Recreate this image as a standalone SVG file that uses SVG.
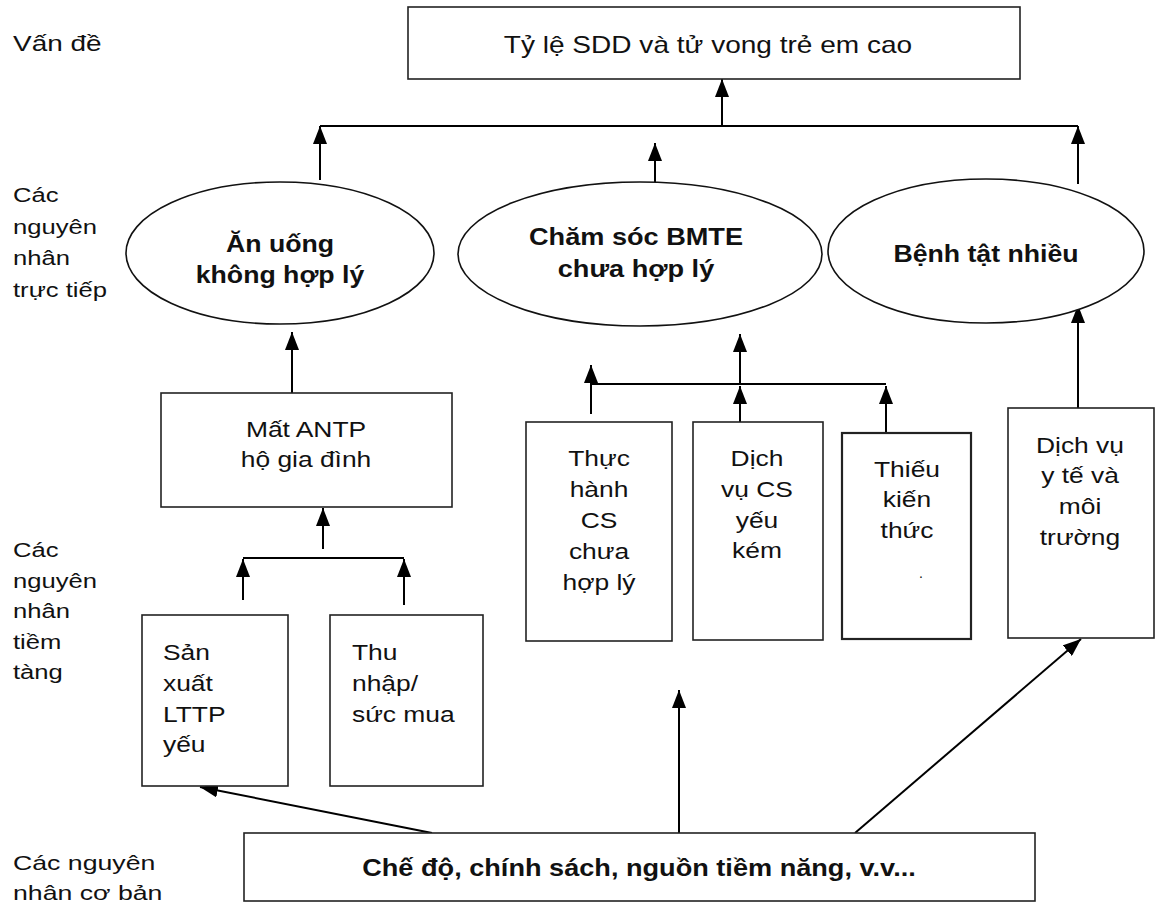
<svg xmlns="http://www.w3.org/2000/svg" width="1161" height="904" viewBox="0 0 1161 904">
<style>
.bg{fill:#fff}
.box{fill:#fff;stroke:#222;stroke-width:1.6}
.ell{fill:#fff;stroke:#111;stroke-width:1.6}
text{font-family:"Liberation Sans",Arial,sans-serif;fill:#111}
.t{font-size:22px}
.lbl{font-size:21px}
.b{font-size:23px;font-weight:bold}
.top{font-size:23px}
.c{stroke:#000;stroke-width:2;fill:none}
.a{marker-end:url(#ah)}
</style>
<defs>
<marker id="ah" viewBox="0 0 18 14" refX="18" refY="7" markerWidth="18" markerHeight="14" markerUnits="userSpaceOnUse" orient="auto">
<path d="M0,0 L18,7 L0,14 z" fill="#000"/>
</marker>
</defs>
<rect class="bg" x="0" y="0" width="1161" height="904"/>

<g id="labels">
<text class="lbl" transform="translate(13,0) scale(1.3,1)" style="font-size:21.5px"><tspan x="0" y="51">Vấn đề</tspan></text>
<text class="lbl" transform="translate(13,0) scale(1.22,1)"><tspan x="0" y="202">Các</tspan><tspan x="0" y="234">nguyên</tspan><tspan x="0" y="265">nhân</tspan><tspan x="0" y="297">trực tiếp</tspan></text>
<text class="lbl" transform="translate(13,0) scale(1.22,1)"><tspan x="0" y="557">Các</tspan><tspan x="0" y="588">nguyên</tspan><tspan x="0" y="618">nhân</tspan><tspan x="0" y="649">tiềm</tspan><tspan x="0" y="679">tàng</tspan></text>
<text class="lbl" transform="translate(13,0) scale(1.27,1)"><tspan x="0" y="870">Các nguyên</tspan><tspan x="0" y="900">nhân cơ bản</tspan></text>
</g>

<g id="connectors">
<path class="c a" d="M722,126 L722,79"/>
<path class="c" d="M320,126 L1078,126"/>
<path class="c a" d="M320,180 L320,126"/>
<path class="c a" d="M655,182 L655,143"/>
<path class="c a" d="M1078,184 L1078,126"/>
<path class="c a" d="M292,393 L292,332"/>
<path class="c a" d="M591,414 L591,365"/>
<path class="c" d="M591,384 L886,384"/>
<path class="c a" d="M740,384 L740,334"/>
<path class="c a" d="M740,422 L740,386"/>
<path class="c a" d="M886,433 L886,386"/>
<path class="c a" d="M1078,408 L1078,305"/>
<path class="c a" d="M323,549 L323,508"/>
<path class="c" d="M243,558 L404,558"/>
<path class="c a" d="M243,600 L243,559"/>
<path class="c a" d="M404,605 L404,559"/>
<path class="c a" d="M432,833 L200,787"/>
<path class="c a" d="M679,833 L679,690"/>
<path class="c a" d="M855,833 L1081,639"/>
</g>

<g id="problem">
<rect class="box" x="408" y="7" width="612" height="72"/>
<text class="top" text-anchor="middle" transform="translate(708,0) scale(1.22,1)"><tspan x="0" y="53">Tỷ lệ SDD và tử vong trẻ em cao</tspan></text>
</g>

<g id="an-uong">
<ellipse class="ell" cx="280" cy="253" rx="154" ry="71"/>
<text class="b" text-anchor="middle" transform="translate(280,0) scale(1.16,1)"><tspan x="0" y="252">Ăn uống</tspan><tspan x="0" y="283">không hợp lý</tspan></text>
</g>

<g id="cham-soc">
<ellipse class="ell" cx="640" cy="254" rx="182" ry="72"/>
<text class="b" text-anchor="middle" transform="translate(636,0) scale(1.18,1)"><tspan x="0" y="245">Chăm sóc BMTE</tspan><tspan x="0" y="277">chưa hợp lý</tspan></text>
</g>

<g id="benh-tat">
<ellipse class="ell" cx="986" cy="251" rx="158" ry="72"/>
<text class="b" text-anchor="middle" transform="translate(986,0) scale(1.16,1)"><tspan x="0" y="262">Bệnh tật nhiều</tspan></text>
</g>

<g id="mat-antp">
<rect class="box" x="161" y="393" width="291" height="114"/>
<text class="t" text-anchor="middle" transform="translate(306,0) scale(1.2,1)"><tspan x="0" y="437">Mất ANTP</tspan><tspan x="0" y="467">hộ gia đình</tspan></text>
</g>

<g id="san-xuat">
<rect class="box" x="142" y="615" width="146" height="171"/>
<text class="t" transform="translate(163,0) scale(1.2,1)"><tspan x="0" y="660">Sản</tspan><tspan x="0" y="691">xuất</tspan><tspan x="0" y="722">LTTP</tspan><tspan x="0" y="752">yếu</tspan></text>
</g>

<g id="thu-nhap">
<rect class="box" x="330" y="615" width="153" height="171"/>
<text class="t" transform="translate(352,0) scale(1.2,1)"><tspan x="0" y="660">Thu</tspan><tspan x="0" y="691">nhập/</tspan><tspan x="0" y="722">sức mua</tspan></text>
</g>

<g id="thuc-hanh">
<rect class="box" x="526" y="422" width="146" height="219"/>
<text class="t" text-anchor="middle" transform="translate(599,0) scale(1.2,1)"><tspan x="0" y="466">Thực</tspan><tspan x="0" y="497">hành</tspan><tspan x="0" y="528">CS</tspan><tspan x="0" y="559">chưa</tspan><tspan x="0" y="590">hợp lý</tspan></text>
</g>

<g id="dich-vu-cs">
<rect class="box" x="693" y="422" width="130" height="218"/>
<text class="t" text-anchor="middle" transform="translate(757,0) scale(1.2,1)"><tspan x="0" y="466">Dịch</tspan><tspan x="0" y="497">vụ CS</tspan><tspan x="0" y="528">yếu</tspan><tspan x="0" y="558">kém</tspan></text>
</g>

<g id="thieu-kien-thuc">
<rect class="box" x="842" y="433" width="129" height="206" style="stroke-width:2.2"/>
<text class="t" text-anchor="middle" transform="translate(907,0) scale(1.2,1)"><tspan x="0" y="477">Thiếu</tspan><tspan x="0" y="507">kiến</tspan><tspan x="0" y="538">thức</tspan></text>
<text class="t" text-anchor="middle" x="921" y="578" style="font-size:14px">.</text>
</g>

<g id="dich-vu-yte">
<rect class="box" x="1008" y="408" width="146" height="230"/>
<text class="t" text-anchor="middle" transform="translate(1080,0) scale(1.2,1)"><tspan x="0" y="453">Dịch vụ</tspan><tspan x="0" y="483">y tế và</tspan><tspan x="0" y="514">môi</tspan><tspan x="0" y="545">trường</tspan></text>
</g>

<g id="che-do">
<rect class="box" x="244" y="833" width="791" height="68"/>
<text class="b" text-anchor="middle" transform="translate(639,0) scale(1.18,1)"><tspan x="0" y="876">Chế độ, chính sách, nguồn tiềm năng, v.v...</tspan></text>
</g>
</svg>
